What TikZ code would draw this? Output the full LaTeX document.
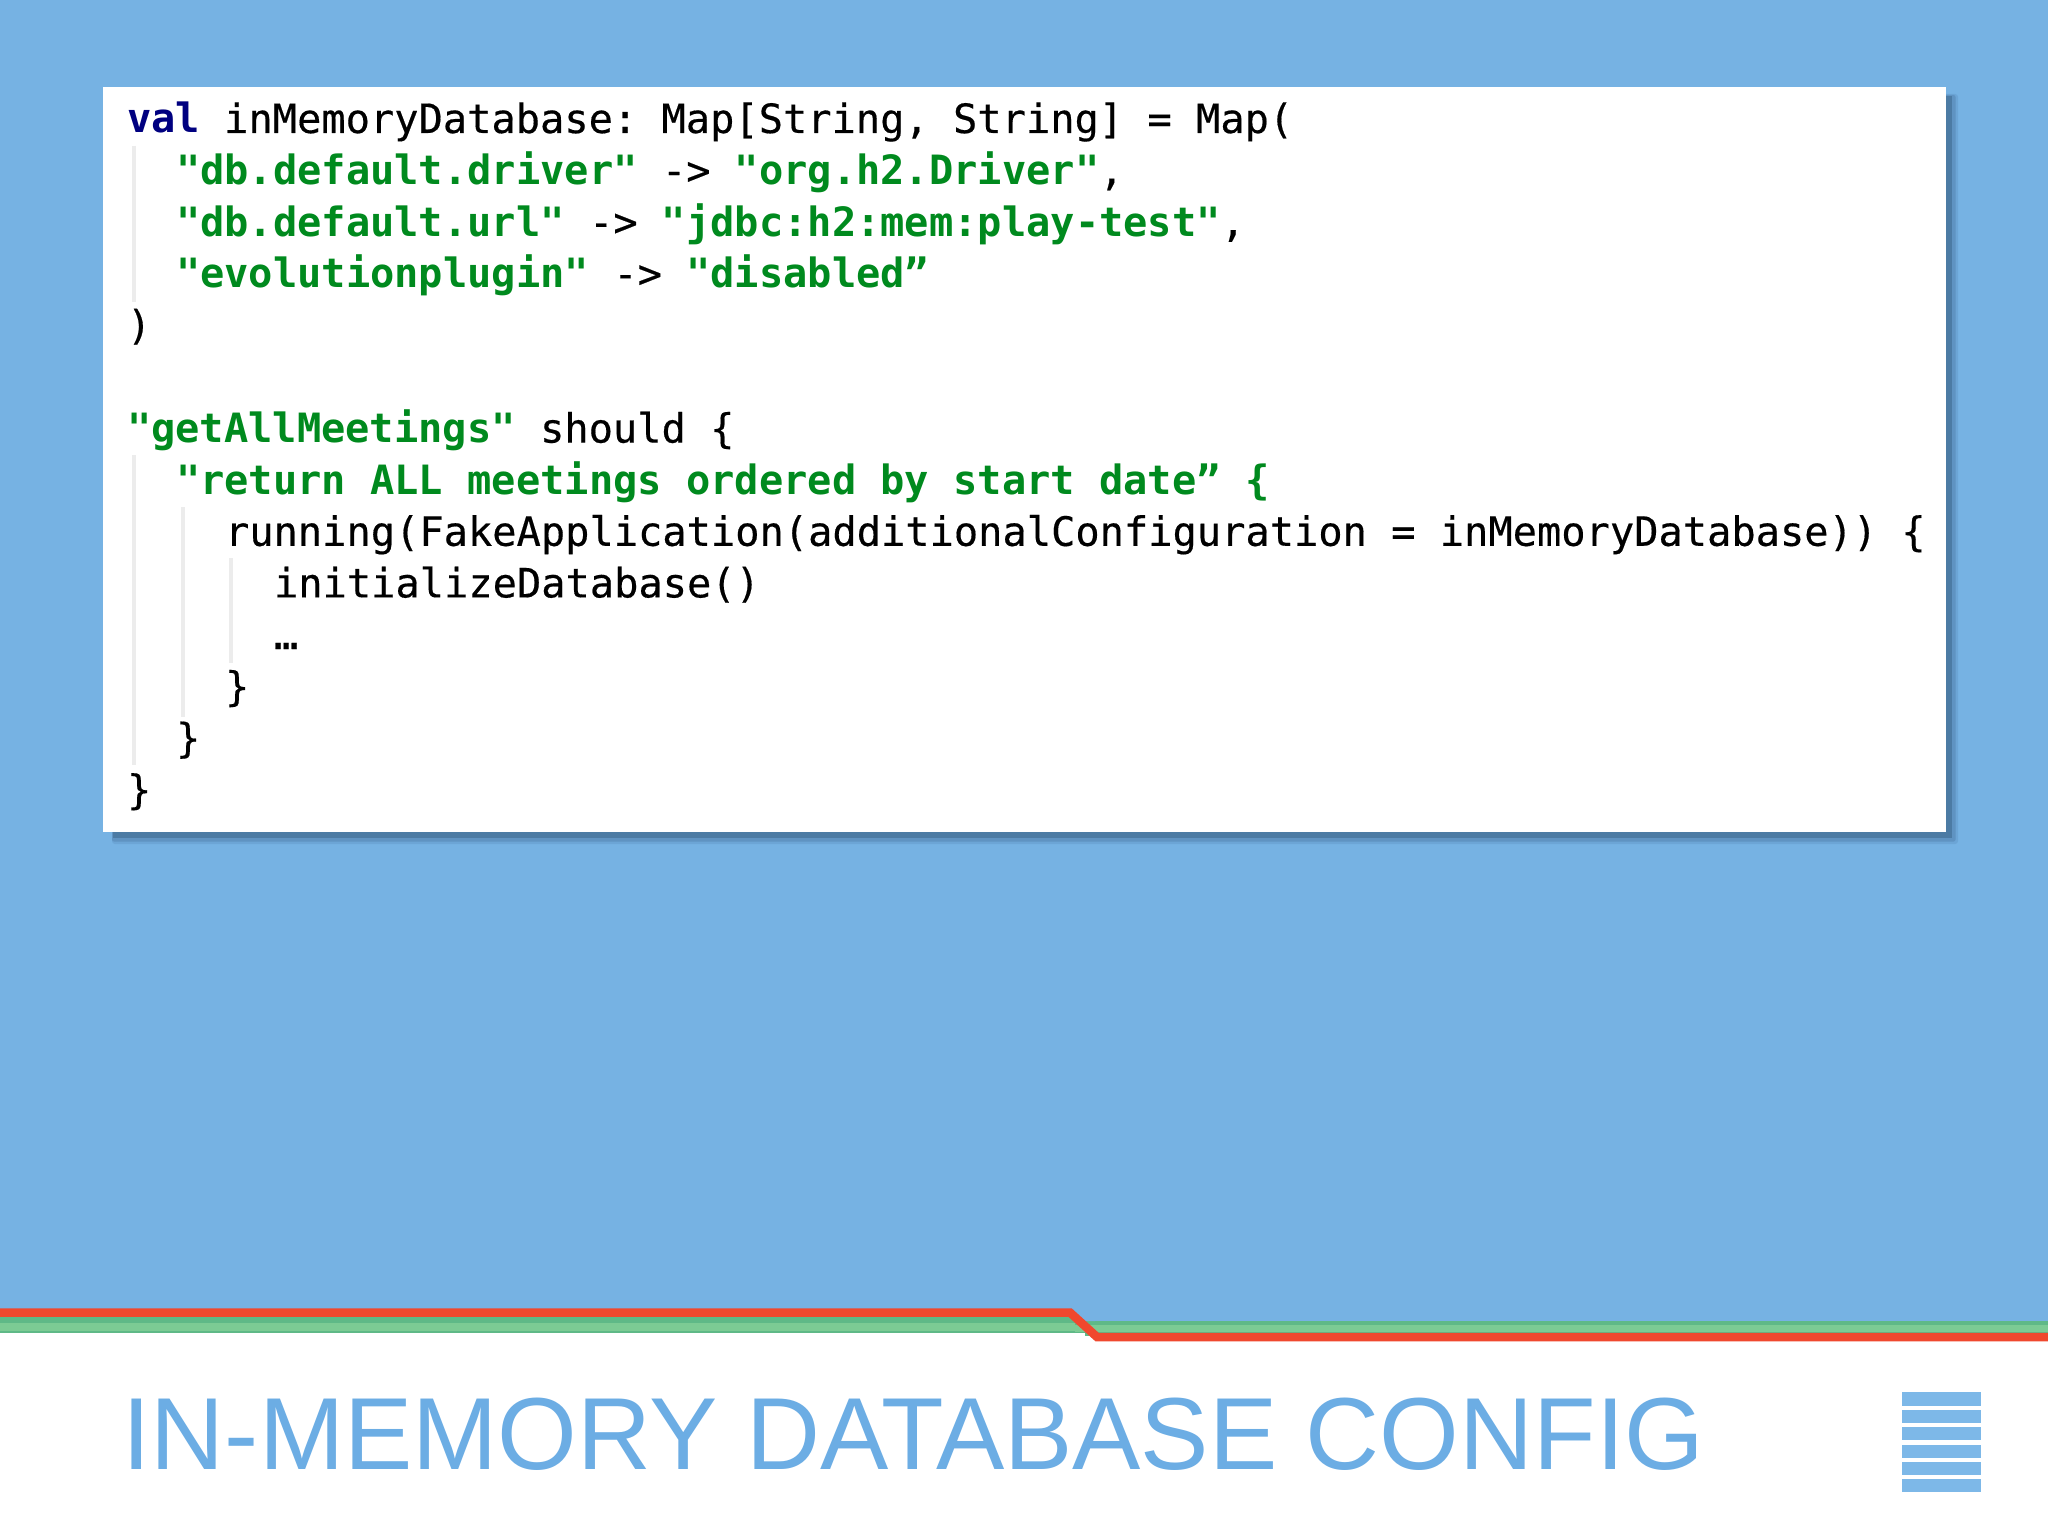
\documentclass[tikz,border=0pt]{standalone}
\usepackage{fontspec}
\setmainfont{Liberation Sans}
\setmonofont[UprightFeatures={FakeBold=0.4}]{DejaVu Sans Mono}
\definecolor{bgblue}{HTML}{76B2E3}
\definecolor{titleblue}{HTML}{6CADE4}
\definecolor{barblue}{HTML}{7DB8E8}
\definecolor{kwblue}{HTML}{000080}
\definecolor{strgreen}{HTML}{008A1E}
\definecolor{guide}{HTML}{ECECEC}
\definecolor{lred}{HTML}{F0482E}
\definecolor{lgreen}{HTML}{5FB987}
\definecolor{lgreenb}{HTML}{7CCB94}
\definecolor{shadowdark}{HTML}{4C7BA4}
\definecolor{shadowmid}{HTML}{5F93C2}
\definecolor{shadowlight}{HTML}{6CA5D6}
\newcommand{\kw}[1]{\textcolor{kwblue}{\bfseries #1}}
\newcommand{\str}[1]{\textcolor{strgreen}{\bfseries #1}}
\tikzset{
  codeline/.style={anchor=base west,inner sep=0pt,outer sep=0pt,text=black,
    font=\ttfamily\fontsize{40.36}{48}\selectfont},
  guideline/.style={draw=guide,line width=3.4pt},
  iconbar/.style={fill=barblue,draw=none},
  titletext/.style={anchor=base west,inner sep=0pt,outer sep=0pt,text=titleblue,
    font=\fontsize{102.4}{120}\selectfont}
}
\begin{document}
\begin{tikzpicture}[x=1pt,y=-1pt]
\useasboundingbox (0,0) rectangle (2048,1536);
\fill[bgblue] (0,0) rectangle (2048,1536);
% panel shadow
\fill[shadowlight,rounded corners=3pt] (112,94) rectangle (1958,844);
\fill[shadowmid,rounded corners=2pt] (112,95) rectangle (1955.5,841.5);
\fill[shadowdark] (113,96) rectangle (1952,838);
\fill[white] (103,87) rectangle (1946,832);
% indent guides
\draw[guideline] (134,146) -- (134,302);
\draw[guideline] (134,455) -- (134,765);
\draw[guideline] (183,507) -- (183,717);
\draw[guideline] (231,558) -- (231,663);
% code
\node[codeline] (l1) at (127,133) {\kw{val} inMemoryDatabase: Map[String, String] = Map(};
\node[codeline] (l2) at (176,184.6) {\str{"db.default.driver"} -> \str{"org.h2.Driver"},};
\node[codeline] (l3) at (176,236.2) {\str{"db.default.url"} -> \str{"jdbc:h2:mem:play-test"},};
\node[codeline] (l4) at (176,287.8) {\str{"evolutionplugin"} -> \str{"disabled”}};
\node[codeline] (l5) at (127,339.4) {)};
\node[codeline] (l7) at (127,442.6) {\str{"getAllMeetings"} should \{};
\node[codeline] (l8) at (176,494.2) {\str{"return ALL meetings ordered by start date” \{}};
\node[codeline] (l9) at (225,545.8) {running(FakeApplication(additionalConfiguration = inMemoryDatabase)) \{};
\node[codeline] (l10) at (274,597.4) {initializeDatabase()};
\node[codeline] (l11) at (274,649) {…};
\node[codeline] (l12) at (225,700.6) {\}};
\node[codeline] (l13) at (176,752.2) {\}};
\node[codeline] (l14) at (127,803.8) {\}};
% footer
\fill[white] (0,1333) rectangle (2048,1536);
\fill[lgreen] (0,1317) rectangle (1075,1333);
\fill[lgreenb] (0,1323) rectangle (1075,1331);
\fill[lgreen] (1075,1321) rectangle (2048,1336);
\fill[lgreenb] (1075,1325) rectangle (2048,1332);
\fill[white] (0,1333) rectangle (1085,1345);
\fill[bgblue] (1072,1308) -- (1095,1308) -- (1095,1321) -- (1085,1321) -- cycle;
\draw[lred,line width=8.5pt,line join=miter] (0,1312.5) -- (1070,1312.5) -- (1097,1337) -- (2048,1337);
% title
\node[titletext] (title) at (122.5,1469.3) {IN-MEMORY DATABASE CONFIG};
% icon
\fill[iconbar] (1902,1392) rectangle (1981,1405.5);
\fill[iconbar] (1902,1409.5) rectangle (1981,1422.5);
\fill[iconbar] (1902,1427) rectangle (1981,1440);
\fill[iconbar] (1902,1444.5) rectangle (1981,1457.5);
\fill[iconbar] (1902,1461.5) rectangle (1981,1475);
\fill[iconbar] (1902,1479) rectangle (1981,1492);
\end{tikzpicture}
\end{document}
